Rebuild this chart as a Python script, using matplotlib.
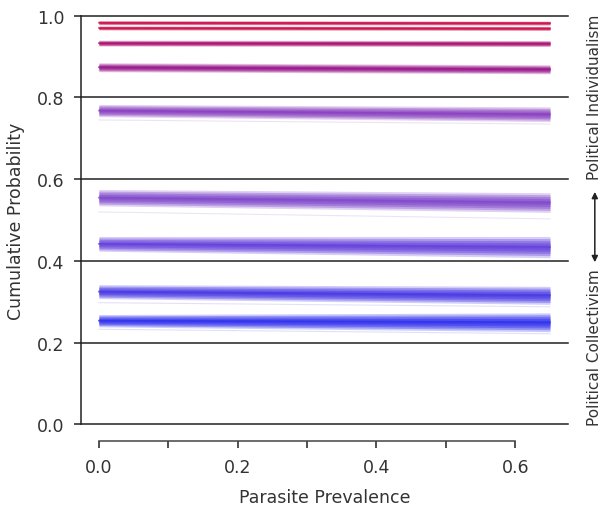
import numpy as np
import matplotlib
matplotlib.use('Agg')
import matplotlib.pyplot as plt
import matplotlib.transforms as mtransforms

plt.rcParams['font.family'] = ['DejaVu Sans']

# prevalence span of the fitted lines
x_range = [0.0, 0.65]

# posterior bundles of cumulative probability, bottom to top
band_start = [0.254, 0.325, 0.442, 0.555, 0.768, 0.874, 0.933, 0.970, 0.983]
band_end = [0.250, 0.316, 0.434, 0.543, 0.759, 0.869, 0.932, 0.969, 0.982]
band_half_start = [0.015, 0.017, 0.018, 0.020, 0.015, 0.011, 0.0073, 0.005, 0.005]
band_half_end = [0.023, 0.022, 0.026, 0.024, 0.018, 0.011, 0.0073, 0.005, 0.005]
band_colors = ['#3030ee', '#4838e4', '#6440dc', '#8048cc', '#8a40c0',
               '#9a188c', '#ac1070', '#cc104c', '#cc104c']

# a few stray draws sitting off the main bundles
stray_start = [0.233, 0.298, 0.520, 0.745]
stray_end = [0.222, 0.288, 0.503, 0.735]
stray_colors = ['#3030ee', '#4838e4', '#8048cc', '#8a40c0']

ink = '#222222'
txt = '#333333'

fig = plt.figure(figsize=(6.03, 5.10), dpi=100)
ax = fig.add_axes([0.134, 0.1657, 0.808, 0.8015])

x = np.array(x_range)
for y0, y1, h0, h1, c in zip(band_start, band_end, band_half_start, band_half_end, band_colors):
    mid = np.array([y0, y1])
    half = np.array([h0, h1])
    for frac, a in [(1.0, 0.25), (0.8, 0.35), (0.6, 0.4), (0.4, 0.45), (0.2, 0.45)]:
        ax.fill_between(x, mid - half * frac, mid + half * frac, color=c, alpha=a, lw=0, zorder=2)
    ax.plot(x, mid, color=c, lw=1.2, alpha=0.7, zorder=3)

for y0, y1, c in zip(stray_start, stray_end, stray_colors):
    ax.plot(x, [y0, y1], color=c, lw=0.8, alpha=0.15, zorder=2)

for yv in [0.0, 0.2, 0.4, 0.6, 0.8, 1.0]:
    ax.axhline(yv, color=ink, lw=1.1, zorder=1, clip_on=False)

ax.set_xlim(-0.026, 0.676)
ax.set_ylim(0, 1)

for s in ['top', 'right']:
    ax.spines[s].set_visible(False)
ax.spines['left'].set_color(ink)
ax.spines['left'].set_linewidth(1.1)
ax.spines['bottom'].set_color('#444444')
ax.spines['bottom'].set_linewidth(1.1)
ax.spines['bottom'].set_position(('outward', 12))
ax.spines['bottom'].set_bounds(0, 0.6)

ax.set_xticks(np.arange(0, 0.61, 0.1))
ax.set_xticklabels(['0.0', '', '0.2', '', '0.4', '', '0.6'])
ax.set_yticks([0.0, 0.2, 0.4, 0.6, 0.8, 1.0])
ax.set_yticklabels(['0.0', '0.2', '0.4', '0.6', '0.8', '1.0'])
ax.tick_params(axis='both', direction='out', length=5, width=1.1, color=ink,
               labelsize=12.5, labelcolor=txt)
ax.tick_params(axis='y', pad=7)
ax.tick_params(axis='x', pad=7)

ax.set_xlabel('Parasite Prevalence', fontsize=12.5, color=txt, labelpad=9)
ax.set_ylabel('Cumulative Probability', fontsize=12.5, color=txt, labelpad=8)

# side annotation: collectivism -> individualism
trans = mtransforms.blended_transform_factory(ax.transAxes, ax.transData)
ax.text(1.055, 0.804, 'Political Individualism', transform=trans, rotation=90,
        ha='center', va='center', fontsize=11, color=txt, clip_on=False)
ax.text(1.055, 0.19, 'Political Collectivism', transform=trans, rotation=90,
        ha='center', va='center', fontsize=11, color=txt, clip_on=False)
ax.annotate('', xy=(1.055, 0.569), xytext=(1.055, 0.397), xycoords=trans, textcoords=trans,
            arrowprops=dict(arrowstyle='<|-|>', color=ink, lw=1.1,
                            mutation_scale=9, shrinkA=0, shrinkB=0),
            annotation_clip=False)

fig.savefig('out.png', dpi=100)
